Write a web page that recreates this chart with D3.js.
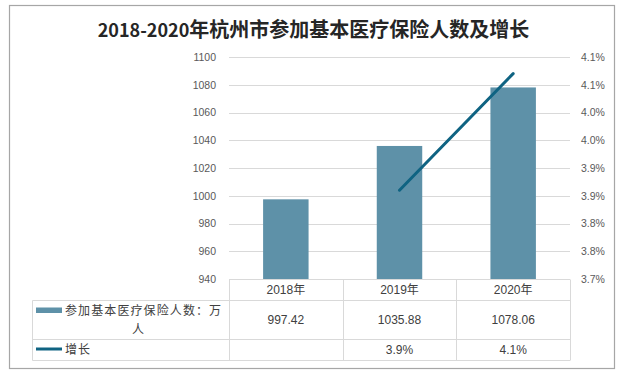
<!DOCTYPE html>
<html>
<head>
<meta charset="utf-8">
<script src="https://cdn.jsdelivr.net/npm/d3@7"></script>
<style>
  body { margin: 0; background: #fff; }
  svg text { font-family: "Liberation Sans", "Noto Sans CJK SC", sans-serif; }
</style>
</head>
<body>
<div id="chart"></div>
<script>
const years = ['2018年', '2019年', '2020年'];
const insured = [997.42, 1035.88, 1078.06];
const insuredLabels = ['997.42', '1035.88', '1078.06'];
const growth = [null, 3.86, 4.07];
const growthLabels = ['', '3.9%', '4.1%'];
const leftTicks = [940, 960, 980, 1000, 1020, 1040, 1060, 1080, 1100];
const rightTicks = [3.7, 3.75, 3.8, 3.85, 3.9, 3.95, 4.0, 4.05, 4.1];
const rightTickLabels = ['3.7%', '3.8%', '3.8%', '3.9%', '3.9%', '4.0%', '4.0%', '4.1%', '4.1%'];

const width = 636, height = 375;
const plot = { left: 229, right: 570, top: 57, bottom: 279 };
const barColor = '#5e91a8';
const lineColor = '#0f6382';
const gridColor = '#d9d9d9';

const svg = d3.select('#chart').append('svg')
  .attr('width', width)
  .attr('height', height);

// outer frame
svg.append('rect')
  .attr('x', 9.5).attr('y', 5.5)
  .attr('width', 605).attr('height', 363)
  .attr('fill', 'none')
  .attr('stroke', '#a6a6a6')
  .attr('stroke-width', 1.2);

const title = svg.append('text')
  .attr('x', 313.5).attr('y', 37)
  .attr('text-anchor', 'middle')
  .style('font-family', '"Noto Sans CJK SC", sans-serif')
  .style('font-size', '20px')
  .style('font-weight', 'bold')
  .attr('fill', '#262626');
title.append('tspan').style('font-size', '18px').text('2018-2020');
title.append('tspan').text('年杭州市参加基本医疗保险人数及增长');

const x = d3.scaleBand()
  .domain(years)
  .range([plot.left, plot.right])
  .paddingInner(0.6)
  .paddingOuter(0.3);

const y = d3.scaleLinear()
  .domain([940, 1100])
  .range([plot.bottom, plot.top]);

const y2 = d3.scaleLinear()
  .domain([3.7, 4.1])
  .range([plot.bottom, plot.top]);

// gridlines
svg.append('g')
  .selectAll('line')
  .data(leftTicks.slice(1))
  .enter()
  .append('line')
  .attr('x1', plot.left).attr('x2', plot.right)
  .attr('y1', d => Math.round(y(d)) + 0.5)
  .attr('y2', d => Math.round(y(d)) + 0.5)
  .attr('stroke', gridColor);

const leftAxis = svg.append('g')
  .attr('transform', `translate(${plot.left},0)`)
  .call(d3.axisLeft(y).tickValues(leftTicks).tickSize(0).tickPadding(13)
    .tickFormat(d3.format('d')));
leftAxis.select('.domain').remove();

const rightAxis = svg.append('g')
  .attr('transform', `translate(${plot.right},0)`)
  .call(d3.axisRight(y2).tickValues(rightTicks).tickSize(0).tickPadding(11)
    .tickFormat((d, i) => rightTickLabels[i]));
rightAxis.select('.domain').remove();

svg.selectAll('.tick text')
  .style('font-size', '10.5px')
  .attr('fill', '#595959');

// bars
svg.append('g')
  .selectAll('rect')
  .data(years)
  .enter()
  .append('rect')
  .attr('x', d => x(d))
  .attr('width', x.bandwidth())
  .attr('y', (d, i) => y(insured[i]))
  .attr('height', (d, i) => plot.bottom - y(insured[i]))
  .attr('fill', barColor);

// growth line
const linePts = years.map((d, i) => ({ year: d, v: growth[i] })).filter(d => d.v !== null);
const line = d3.line()
  .x(d => x(d.year) + x.bandwidth() / 2)
  .y(d => y2(d.v));

svg.append('path')
  .datum(linePts)
  .attr('fill', 'none')
  .attr('stroke', lineColor)
  .attr('stroke-width', 3)
  .attr('stroke-linecap', 'round')
  .attr('d', line);

// data table
const step = x.step();
const colEdges = years.map((d, i) => plot.left + i * step).concat([plot.right]);
const rows = [279.5, 300.5, 339.5, 360.5];
const tableLeft = 32.5;
const table = svg.append('g')
  .attr('stroke', gridColor)
  .attr('stroke-width', 1);

table.append('line')
  .attr('x1', plot.left).attr('x2', plot.right)
  .attr('y1', rows[0]).attr('y2', rows[0]);
rows.slice(1).forEach(r => {
  table.append('line')
    .attr('x1', tableLeft).attr('x2', plot.right)
    .attr('y1', r).attr('y2', r);
});
colEdges.forEach(c => {
  table.append('line')
    .attr('x1', Math.round(c) + 0.5).attr('x2', Math.round(c) + 0.5)
    .attr('y1', rows[0]).attr('y2', rows[3]);
});
table.append('line')
  .attr('x1', tableLeft).attr('x2', tableLeft)
  .attr('y1', rows[1]).attr('y2', rows[3]);

const cells = svg.append('g')
  .style('font-size', '12px')
  .attr('fill', '#404040')
  .attr('text-anchor', 'middle');

years.forEach((d, i) => {
  const cx = x(d) + x.bandwidth() / 2;
  cells.append('text').attr('x', cx).attr('y', 294).text(d);
  cells.append('text').attr('x', cx).attr('y', 324).text(insuredLabels[i]);
  cells.append('text').attr('x', cx).attr('y', 354).text(growthLabels[i]);
});

// legend cells
svg.append('rect')
  .attr('x', 36).attr('y', 307.5)
  .attr('width', 26).attr('height', 5.5)
  .attr('fill', barColor);

svg.append('text')
  .attr('x', 65).attr('y', 315)
  .style('font-size', '12px')
  .style('letter-spacing', '1.1px')
  .attr('fill', '#404040')
  .text('参加基本医疗保险人数：万');

svg.append('text')
  .attr('x', 138).attr('y', 334)
  .attr('text-anchor', 'middle')
  .style('font-size', '12px')
  .attr('fill', '#404040')
  .text('人');

svg.append('line')
  .attr('x1', 36).attr('x2', 62)
  .attr('y1', 349).attr('y2', 349)
  .attr('stroke', lineColor)
  .attr('stroke-width', 3);

svg.append('text')
  .attr('x', 65).attr('y', 354)
  .style('font-size', '12px')
  .style('letter-spacing', '1.1px')
  .attr('fill', '#404040')
  .text('增长');
</script>
</body>
</html>
